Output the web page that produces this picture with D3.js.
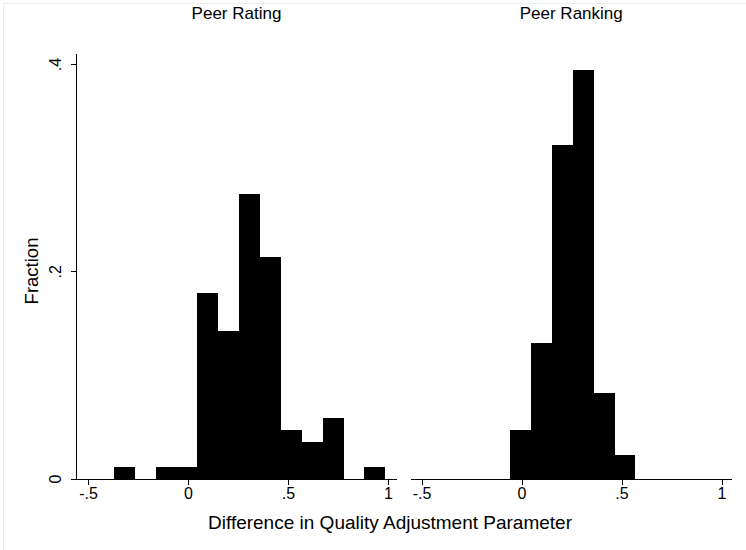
<!DOCTYPE html>
<html lang="en">
<head>
  <meta charset="UTF-8">
  <title>Peer Rating / Peer Ranking histograms</title>
  <style>
    body { margin: 0; background: #fff; }
    svg { display: block; font-family: "Liberation Sans", Arial, sans-serif; }
    .axis path, .axis line { stroke: #000; shape-rendering: crispEdges; }
    .axis text { fill: #000; }
  </style>
</head>
<body>
  <svg id="chart" width="746" height="550"></svg>

  <script src="https://cdnjs.cloudflare.com/ajax/libs/d3/7.8.5/d3.min.js"></script>
  <script>
    // histogram bin edges (shared by both panels)
    const binEdges = [-0.370, -0.266, -0.161, -0.057, 0.047, 0.152, 0.256,
                      0.360, 0.465, 0.569, 0.673, 0.778, 0.882, 0.986];

    // fraction per bin
    const peerRating  = [0.011, 0, 0.011, 0.011, 0.1787, 0.1425, 0.2745,
                         0.2142, 0.0468, 0.0350, 0.0585, 0, 0.011];
    const peerRanking = [0, 0, 0, 0.047, 0.131, 0.322, 0.3945,
                         0.0828, 0.0228, 0, 0, 0, 0];

    const panelTitles = ["Peer Rating", "Peer Ranking"];
    const xTicks = [-0.5, 0, 0.5, 1];
    const yTicks = [0, 0.2, 0.4];

    const svg = d3.select("#chart");

    // faint outer frame of the graph region
    svg.append("rect")
      .attr("x", 3.5).attr("y", 3.5)
      .attr("width", 760).attr("height", 560)
      .attr("fill", "none")
      .attr("stroke", "#e6eeee");

    const y = d3.scaleLinear().domain([0, 0.4]).range([478.5, 64]);

    // stata style number labels: drop the leading zero
    const fmt = d => d === 0 ? "0" : String(d).replace(/^(-?)0\./, "$1.");

    const panels = [
      { title: panelTitles[0], values: peerRating,  left: 76,  right: 397,   x0: 88 },
      { title: panelTitles[1], values: peerRanking, left: 411, right: 731.5, x0: 421.5 }
    ];

    panels.forEach((p, i) => {
      const x = d3.scaleLinear().domain([-0.5, 1]).range([p.x0, p.x0 + 300]);
      const g = svg.append("g");

      const bins = p.values.map((v, k) => ({ x0: binEdges[k], x1: binEdges[k + 1], v }))
        .filter(b => b.v > 0);

      g.selectAll("rect.bar")
        .data(bins)
        .join("rect")
        .attr("class", "bar")
        .attr("x", d => x(d.x0))
        .attr("width", d => x(d.x1) - x(d.x0))
        .attr("y", d => y(d.v))
        .attr("height", d => y(0) - y(d.v))
        .attr("fill", "#000")
        .attr("shape-rendering", "crispEdges");

      // x axis
      const xa = g.append("g")
        .attr("class", "axis")
        .attr("transform", `translate(0,${y(0) + 0.5})`)
        .call(d3.axisBottom(x).tickValues(xTicks).tickFormat(fmt).tickSize(6).tickSizeOuter(0));
      xa.select(".domain").attr("d", `M${p.left},0H${p.right}`);
      xa.selectAll("text").attr("font-size", 16).attr("y", 8).attr("dy", "0.75em");

      // panel title
      svg.append("text")
        .attr("x", (p.left + p.right) / 2)
        .attr("y", 19)
        .attr("text-anchor", "middle")
        .attr("font-size", 17)
        .text(p.title);
    });

    // y axis (left panel only)
    const ya = svg.append("g")
      .attr("class", "axis")
      .attr("transform", "translate(76.5,0)")
      .call(d3.axisLeft(y).tickValues(yTicks).tickFormat(fmt).tickSize(6).tickSizeOuter(0));
    ya.select(".domain").attr("d", "M0,54V479");
    ya.selectAll(".tick text")
      .attr("font-size", 16)
      .attr("x", null).attr("dy", null)
      .attr("text-anchor", "middle")
      .attr("transform", "translate(-16,0) rotate(-90)");

    // axis titles
    svg.append("text")
      .attr("transform", "translate(38,271) rotate(-90)")
      .attr("text-anchor", "middle")
      .attr("font-size", 18.5)
      .text("Fraction");

    svg.append("text")
      .attr("x", 390)
      .attr("y", 529)
      .attr("text-anchor", "middle")
      .attr("font-size", 19)
      .text("Difference in Quality Adjustment Parameter");
  </script>
</body>
</html>
